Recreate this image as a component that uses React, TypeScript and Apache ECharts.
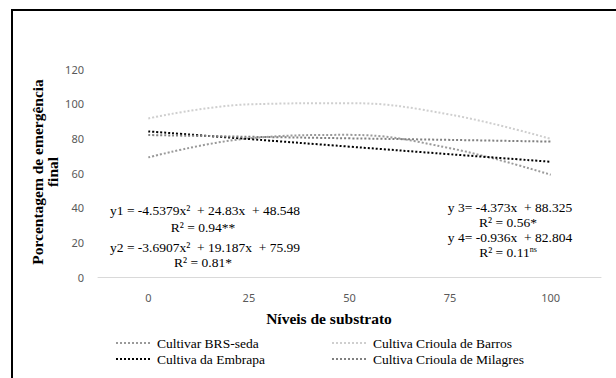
import React, { useEffect, useRef } from "react";
import * as echarts from "echarts";

const levels = ["0", "25", "50", "75", "100"];
const brsSeda = [69, 80, 82, 74.3, 59];
const criolaBarros = [91.5, 99.6, 100.3, 93.7, 79.7];
const embrapa = [84, 79.6, 75.2, 70.8, 66.5];
const criolaMilagres = [81.9, 80.9, 80, 79.1, 78.1];
const yTicks = { min: 0, max: 120, interval: 20 };

const SERIF = "Liberation Serif";
const SANS = "Noto Sans";

export default function App() {
  const ref = useRef<HTMLDivElement>(null);
  useEffect(() => {
    if (!ref.current) return;
    const chart = echarts.init(ref.current, undefined, { renderer: "svg" });
    const mk = (name: string, data: number[], color: string) => ({
      name,
      type: "line",
      data,
      smooth: 0.4,
      symbol: "none",
      lineStyle: { color, width: 2, type: [2, 2] },
      itemStyle: { color },
      z: 3,
    });
    const eqText = (x: number, y: number, text: string) => ({
      type: "text",
      x,
      y,
      style: {
        text,
        fontFamily: SERIF,
        fontSize: 13.5,
        fill: "#000",
        align: "center",
        verticalAlign: "middle",
      },
    });
    const legendBase = {
      orient: "vertical",
      top: 331,
      itemWidth: 36,
      itemHeight: 12,
      itemGap: 2,
      itemStyle: { opacity: 0 },
      textStyle: { fontFamily: SERIF, fontSize: 13.5, color: "#000" },
    };
    chart.setOption({
      animation: false,
      backgroundColor: "#fff",
      grid: { left: 98, right: 15, top: 69, bottom: 101, containLabel: false },
      xAxis: {
        type: "category",
        data: levels,
        boundaryGap: true,
        axisLine: { lineStyle: { color: "#d9d9d9", width: 1 } },
        axisTick: { show: false },
        axisLabel: { color: "#595959", fontFamily: SANS, fontSize: 11, margin: 15 },
        splitLine: { show: false },
      },
      yAxis: {
        type: "value",
        min: yTicks.min,
        max: yTicks.max,
        interval: yTicks.interval,
        axisLine: { show: false },
        axisTick: { show: false },
        splitLine: { show: false },
        axisLabel: { color: "#595959", fontFamily: SANS, fontSize: 11, margin: 14 },
      },
      legend: [
        { ...legendBase, left: 110, data: ["Cultivar BRS-seda", "Cultiva da Embrapa"] },
        {
          ...legendBase,
          left: 326,
          data: ["Cultiva Crioula de Barros", "Cultiva Crioula de Milagres"],
        },
      ],
      series: [
        mk("Cultivar BRS-seda", brsSeda, "#9a9a9a"),
        mk("Cultiva Crioula de Barros", criolaBarros, "#cfcfcf"),
        mk("Cultiva da Embrapa", embrapa, "#000000"),
        mk("Cultiva Crioula de Milagres", criolaMilagres, "#808080"),
      ],
      graphic: [
        {
          type: "rect",
          shape: { x: 12, y: 10, width: 640, height: 400 },
          style: { fill: "none", stroke: "#000", lineWidth: 2 },
          silent: true,
        },
        {
          type: "text",
          x: 45,
          y: 172,
          rotation: Math.PI / 2,
          style: {
            text: "Porcentagem de emergência\nfinal",
            fontFamily: SERIF,
            fontWeight: "bold",
            fontSize: 15.5,
            fill: "#000",
            align: "center",
            verticalAlign: "middle",
            lineHeight: 15,
          },
        },
        {
          type: "text",
          x: 329,
          y: 318,
          style: {
            text: "Níveis de substrato",
            fontFamily: SERIF,
            fontWeight: "bold",
            fontSize: 15.5,
            fill: "#000",
            align: "center",
            verticalAlign: "middle",
          },
        },
        eqText(205, 210, "y1 = -4.5379x²  + 24.83x  + 48.548"),
        eqText(203, 227, "R² = 0.94**"),
        eqText(205, 247, "y2 = -3.6907x²  + 19.187x  + 75.99"),
        eqText(203, 262, "R² = 0.81*"),
        eqText(510, 207, "y 3= -4.373x  + 88.325"),
        eqText(508, 222, "R² = 0.56*"),
        eqText(510, 237, "y 4= -0.936x  + 82.804"),
        {
          type: "text",
          x: 508,
          y: 252,
          style: {
            text: "{b|R² = 0.11}{s|ns}",
            rich: {
              b: { fontFamily: SERIF, fontSize: 13.5, fill: "#000", verticalAlign: "bottom" },
              s: { fontFamily: SERIF, fontSize: 8, fill: "#000", verticalAlign: "top" },
            },
            align: "center",
            verticalAlign: "middle",
          },
        },
      ],
    });
    return () => chart.dispose();
  }, []);
  return (
    <div
      ref={ref}
      style={{ position: "absolute", left: 0, top: 0, width: 616, height: 378 }}
    />
  );
}
